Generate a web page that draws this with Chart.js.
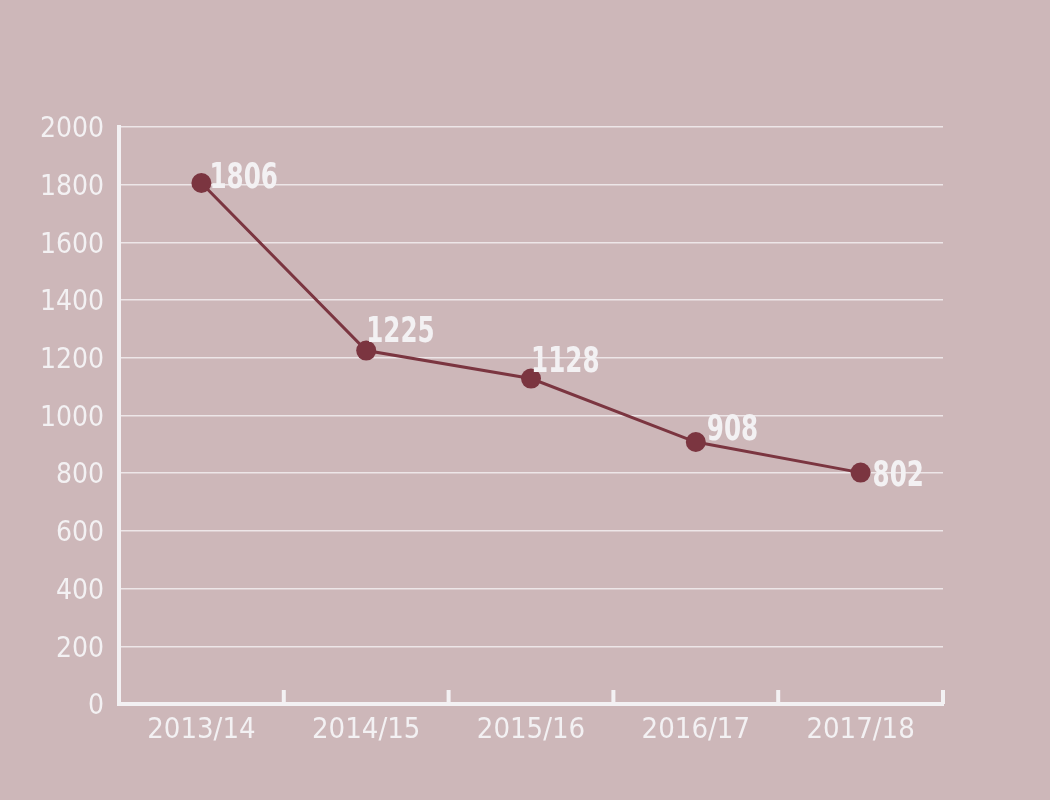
<!DOCTYPE html>
<html>
<head>
    <title>Trend 2013/14 - 2017/18</title>
    <script src="https://cdn.jsdelivr.net/npm/chart.js"></script>
    <style>
        html, body {
            margin: 0;
            padding: 0;
            background: #cdb7b9;
        }
        .wrap {
            width: 1050px;
            height: 800px;
        }
    </style>
</head>
<body>
    <div class="wrap">
        <canvas id="trendChart"></canvas>
    </div>
    <script>
        // data
        const years = ['2013/14', '2014/15', '2015/16', '2016/17', '2017/18'];
        const counts = [1806, 1225, 1128, 908, 802];
        const yTicks = [0, 200, 400, 600, 800, 1000, 1200, 1400, 1600, 1800, 2000];

        const FONT = '"Liberation Sans Narrow", "DejaVu Sans Condensed", sans-serif';
        const WHITE = '#f3f1f3';
        const LINE = '#7b3540';

        // small upward tick marks between categories on the x axis
        const catTicks = {
            id: 'catTicks',
            beforeDatasetsDraw(chart) {
                const x = chart.scales.x;
                const ctx = chart.ctx;
                const half = (x.getPixelForValue(1) - x.getPixelForValue(0)) / 2;
                const y0 = chart.chartArea.bottom;
                ctx.save();
                ctx.strokeStyle = WHITE;
                ctx.lineWidth = 4;
                for (let i = 0; i < years.length; i++) {
                    const px = x.getPixelForValue(i) + half;
                    ctx.beginPath();
                    ctx.moveTo(px, y0);
                    ctx.lineTo(px, y0 - 14);
                    ctx.stroke();
                }
                ctx.restore();
            }
        };

        // value labels next to each point (squeezed to look condensed)
        const valueLabels = {
            id: 'valueLabels',
            afterDatasetsDraw(chart) {
                const ctx = chart.ctx;
                const meta = chart.getDatasetMeta(0);
                const nudgeX = [8, 0, 0, 11, 12];
                const nudgeY = [5, -9, -7, -2, 13];
                const sx = 0.76;
                ctx.save();
                ctx.font = 'bold 36px ' + FONT;
                ctx.fillStyle = WHITE;
                ctx.textAlign = 'left';
                ctx.textBaseline = 'alphabetic';
                meta.data.forEach((pt, i) => {
                    ctx.save();
                    ctx.translate(pt.x + nudgeX[i], pt.y + nudgeY[i]);
                    ctx.scale(sx, 1);
                    ctx.fillText(String(counts[i]), 0, 0);
                    ctx.restore();
                });
                ctx.restore();
            }
        };

        const ctx = document.getElementById('trendChart').getContext('2d');
        new Chart(ctx, {
            type: 'line',
            data: {
                labels: years,
                datasets: [{
                    data: counts,
                    borderColor: LINE,
                    backgroundColor: LINE,
                    borderWidth: 3,
                    pointRadius: 10,
                    pointHoverRadius: 10,
                    pointBackgroundColor: LINE,
                    pointBorderWidth: 0,
                    tension: 0,
                    fill: false
                }]
            },
            options: {
                responsive: true,
                maintainAspectRatio: false,
                animation: false,
                layout: {
                    padding: { top: 127, right: 107, left: 0, bottom: 0 }
                },
                plugins: {
                    legend: { display: false },
                    tooltip: { enabled: false }
                },
                scales: {
                    x: {
                        offset: true,
                        afterFit(scale) { scale.height = 96; },
                        grid: { display: false, drawTicks: false },
                        border: { display: true, color: WHITE, width: 4 },
                        ticks: {
                            color: WHITE,
                            padding: 9,
                            maxRotation: 0,
                            font: { family: FONT, size: 29 }
                        }
                    },
                    y: {
                        min: 0,
                        max: 2000,
                        afterFit(scale) { scale.width = 119; },
                        afterBuildTicks(scale) {
                            scale.ticks = yTicks.map(v => ({ value: v }));
                        },
                        grid: {
                            drawTicks: false,
                            lineWidth: 1.5,
                            color: c => c.tick && c.tick.value === 0 ? 'rgba(0,0,0,0)' : '#ede6e8'
                        },
                        border: { display: true, color: WHITE, width: 4 },
                        ticks: {
                            color: WHITE,
                            padding: 15,
                            labelOffset: 3,
                            callback: v => String(v),
                            font: { family: FONT, size: 28 }
                        }
                    }
                }
            },
            plugins: [catTicks, valueLabels]
        });
    </script>
</body>
</html>
